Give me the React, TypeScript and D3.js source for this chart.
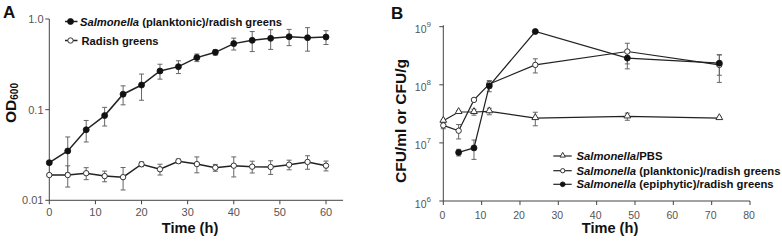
import React from "react";
import * as d3 from "d3";

// ---------- Panel A data ----------
const timeA = [0, 4, 8, 12, 16, 20, 24, 28, 32, 36, 40, 44, 48, 52, 56, 60];
const planktonicA = [0.026, 0.035, 0.06, 0.086, 0.148, 0.187, 0.267, 0.298, 0.375, 0.429, 0.535, 0.582, 0.612, 0.638, 0.622, 0.633];
const planktonicAErr = [0.001, 0.015, 0.016, 0.02, 0.035, 0.06, 0.05, 0.048, 0.036, 0.03, 0.08, 0.145, 0.15, 0.13, 0.18, 0.11];
const greensA = [0.019, 0.019, 0.0199, 0.0185, 0.018, 0.025, 0.022, 0.027, 0.0251, 0.0229, 0.0241, 0.0235, 0.0233, 0.0247, 0.0265, 0.0241];
const greensAErr = [0.0005, 0.005, 0.003, 0.0025, 0.005, 0.0015, 0.003, 0.0015, 0.005, 0.002, 0.006, 0.0035, 0.004, 0.003, 0.0045, 0.003];
const xTicksA = [0, 10, 20, 30, 40, 50, 60];
const yTicksA = [0.01, 0.1, 1];
const yTickLabelsA = ["0.01", "0.1", "1.0"];
const legendA = ["(planktonic)/radish greens", "Radish greens"];

// ---------- Panel B data ----------
const timeB = [0, 4, 8, 12, 24, 48, 72];
const pbsB = [2.4e7, 3.4e7, 3.4e7, 3.5e7, 2.67e7, 2.85e7, 2.67e7];
const pbsBErr = [0.1e7, 0.2e7, 0.4e7, 0.45e7, 0.7e7, 0.4e7, 0.1e7];
const planktonicB = [2.0e7, 1.62e7, 5.5e7, 1.03e8, 2.2e8, 3.74e8, 2.2e8];
const planktonicBErr = [0.25e7, 0.45e7, 0.2e7, 0.15e8, 0.6e8, 1.45e8, 1.1e8];
const epiTimeB = [4, 8, 12, 24, 48, 72];
const epiphyticB = [6.86e6, 8.2e6, 9.6e7, 8.26e8, 2.88e8, 2.36e8];
const epiphyticBErr = [0.9e6, 3e6, 0.2e8, 0.4e8, 1.0e8, 0.9e8];
const xTicksB = [0, 10, 20, 30, 40, 50, 60, 70, 80];
const yTicksB = [1e6, 1e7, 1e8, 1e9];
const yTickExpB = ["6", "7", "8", "9"];
const legendB = ["/PBS", " (planktonic)/radish greens", " (epiphytic)/radish greens"];

const FONT = "'Liberation Sans', Arial, Helvetica, sans-serif";
const LINE = "#222";
const ERR = "#666";
const TICKTXT = "#555";
const AXIS = "#444";

type Pt = { t: number; v: number; e: number };

function zip(t: number[], v: number[], e: number[]): Pt[] {
  return t.map((tt, i) => ({ t: tt, v: v[i], e: e[i] }));
}

function ErrorBars({ data, x, y, floor }: { data: Pt[]; x: any; y: any; floor: number }) {
  return (
    <g stroke={ERR} strokeWidth={1}>
      {data.map((d, i) => {
        const cx = x(d.t);
        const y1 = y(d.v + d.e);
        const y2 = y(Math.max(d.v - d.e, floor));
        return (
          <g key={i}>
            <line x1={cx} x2={cx} y1={y1} y2={y2} />
            <line x1={cx - 2.5} x2={cx + 2.5} y1={y1} y2={y1} />
            <line x1={cx - 2.5} x2={cx + 2.5} y1={y2} y2={y2} />
          </g>
        );
      })}
    </g>
  );
}

function Marker({ kind, cx, cy, s = 1 }: { kind: string; cx: number; cy: number; s?: number }) {
  if (kind === "filled") return <circle cx={cx} cy={cy} r={3 * s} fill="#111" stroke="#111" strokeWidth={0.8} />;
  if (kind === "open") return <circle cx={cx} cy={cy} r={2.7 * s} fill="#fff" stroke="#333" strokeWidth={1} />;
  const p = d3.symbol(d3.symbolTriangle, 20 * s * s)() as string;
  return <path d={p} transform={`translate(${cx},${cy - 0.5})`} fill="#fff" stroke="#333" strokeWidth={1} />;
}

function Series({ data, x, y, kind, width }: { data: Pt[]; x: any; y: any; kind: string; width: number }) {
  const line = d3.line<Pt>().x((d) => x(d.t)).y((d) => y(d.v));
  return (
    <g>
      <path d={line(data) as string} fill="none" stroke={LINE} strokeWidth={width} />
      {data.map((d, i) => (
        <Marker key={i} kind={kind} cx={x(d.t)} cy={y(d.v)} />
      ))}
    </g>
  );
}

function PanelA() {
  const x = d3.scaleLinear().domain([0, 60]).range([49.3, 326]);
  const y = d3.scaleLog().domain([0.01, 1]).range([200.3, 19]);
  const s1 = zip(timeA, planktonicA, planktonicAErr);
  const s2 = zip(timeA, greensA, greensAErr);
  const x0 = x(0);
  const y0 = y(0.01);
  return (
    <g fontFamily={FONT}>
      <text x={3} y={18.3} fontSize={17} fontWeight="bold" fill="#111">A</text>
      <line x1={x0} x2={x0} y1={y(1)} y2={y0} stroke={AXIS} strokeWidth={1} />
      <line x1={x0} x2={x(63.7)} y1={y0} y2={y0} stroke={AXIS} strokeWidth={1} />
      {yTicksA.map((t, i) => (
        <g key={i}>
          <line x1={x0 - 4} x2={x0} y1={y(t)} y2={y(t)} stroke={AXIS} />
          <text x={43.5} y={y(t)} dy="0.35em" textAnchor="end" fontSize={11} fill={TICKTXT}>{yTickLabelsA[i]}</text>
        </g>
      ))}
      {xTicksA.map((t, i) => (
        <g key={i}>
          <line x1={x(t)} x2={x(t)} y1={y0} y2={y0 + 4} stroke={AXIS} />
          <text x={x(t)} y={216} textAnchor="middle" fontSize={11} fill={TICKTXT}>{t}</text>
        </g>
      ))}
      <text x={190} y={233.3} textAnchor="middle" fontSize={14.6} fontWeight="bold" fill="#111">Time (h)</text>
      <text transform="translate(16,103) rotate(-90)" textAnchor="middle" fontSize={15.5} fontWeight="bold" fill="#111">
        OD<tspan fontSize={10} dy={1.5}>600</tspan>
      </text>
      <ErrorBars data={s1} x={x} y={y} floor={0.011} />
      <ErrorBars data={s2} x={x} y={y} floor={0.011} />
      <Series data={s2} x={x} y={y} kind="open" width={1.5} />
      <Series data={s1} x={x} y={y} kind="filled" width={1.5} />
      <g>
        <line x1={65} x2={77.5} y1={21.5} y2={21.5} stroke={LINE} strokeWidth={1.5} />
        <Marker kind="filled" cx={70.5} cy={21.5} />
        <text x={80} y={25.5} fontSize={11.2} fontWeight="bold" fill="#111">
          <tspan fontStyle="italic">Salmonella</tspan> {legendA[0]}
        </text>
        <line x1={65} x2={77.5} y1={40.5} y2={40.5} stroke={LINE} strokeWidth={1.5} />
        <Marker kind="open" cx={70.5} cy={40.5} />
        <text x={81.5} y={44.5} fontSize={11.2} fontWeight="bold" fill="#111">{legendA[1]}</text>
      </g>
    </g>
  );
}

function PanelB() {
  const x = d3.scaleLinear().domain([0, 80]).range([443.3, 750]);
  const y = d3.scaleLog().domain([1e6, 1e9]).range([201, 26.7]);
  const pbs = zip(timeB, pbsB, pbsBErr);
  const plank = zip(timeB, planktonicB, planktonicBErr);
  const epi = zip(epiTimeB, epiphyticB, epiphyticBErr);
  const x0 = x(0);
  const y0 = y(1e6);
  const legendRows = [
    { kind: "tri", y: 156, label: legendB[0] },
    { kind: "open", y: 170.7, label: legendB[1] },
    { kind: "filled", y: 184.3, label: legendB[2] },
  ];
  return (
    <g fontFamily={FONT}>
      <text x={391} y={19.3} fontSize={17} fontWeight="bold" fill="#111">B</text>
      <line x1={x0} x2={x0} y1={y(1e9) - 1.5} y2={y0} stroke={AXIS} strokeWidth={1} />
      <line x1={x0} x2={x(80)} y1={y0} y2={y0} stroke={AXIS} strokeWidth={1} />
      {yTicksB.map((t, i) => (
        <g key={i}>
          <line x1={x0 - 4} x2={x0} y1={y(t)} y2={y(t)} stroke={AXIS} />
          <text x={431} y={y(t) + 6.5} textAnchor="end" fontSize={10.5} fill={TICKTXT}>
            10<tspan dy={-6} fontSize={8}>{yTickExpB[i]}</tspan>
          </text>
        </g>
      ))}
      {xTicksB.map((t, i) => (
        <g key={i}>
          <line x1={x(t)} x2={x(t)} y1={y0} y2={y0 + 4} stroke={AXIS} />
          <text x={x(t) - 1} y={218.5} textAnchor="middle" fontSize={10.5} fill={TICKTXT}>{t}</text>
        </g>
      ))}
      <text x={610} y={233.3} textAnchor="middle" fontSize={14.6} fontWeight="bold" fill="#111">Time (h)</text>
      <text transform="translate(405.5,121) rotate(-90)" textAnchor="middle" fontSize={15.5} fontWeight="bold" fill="#111">
        CFU/ml or CFU/g
      </text>
      <ErrorBars data={pbs} x={x} y={y} floor={1.1e6} />
      <ErrorBars data={plank} x={x} y={y} floor={1.1e6} />
      <ErrorBars data={epi} x={x} y={y} floor={1.1e6} />
      <Series data={pbs} x={x} y={y} kind="tri" width={1.2} />
      <Series data={plank} x={x} y={y} kind="open" width={1.2} />
      <Series data={epi} x={x} y={y} kind="filled" width={1.2} />
      {legendRows.map((r, i) => (
        <g key={i}>
          <line x1={553.3} x2={571.7} y1={r.y} y2={r.y} stroke={LINE} strokeWidth={1.2} />
          <Marker kind={r.kind} cx={562.7} cy={r.y} s={0.8} />
          <text x={576.5} y={r.y + 4} fontSize={11.3} fontWeight="bold" fill="#111">
            <tspan fontStyle="italic">Salmonella</tspan>{r.label}
          </text>
        </g>
      ))}
    </g>
  );
}

export default function App() {
  return (
    <svg
      width={782}
      height={244}
      viewBox="0 0 782 244"
      style={{ position: "absolute", left: 0, top: 0, background: "#fff" }}
    >
      <rect x={0} y={0} width={782} height={244} fill="#fff" />
      <PanelA />
      <PanelB />
    </svg>
  );
}
